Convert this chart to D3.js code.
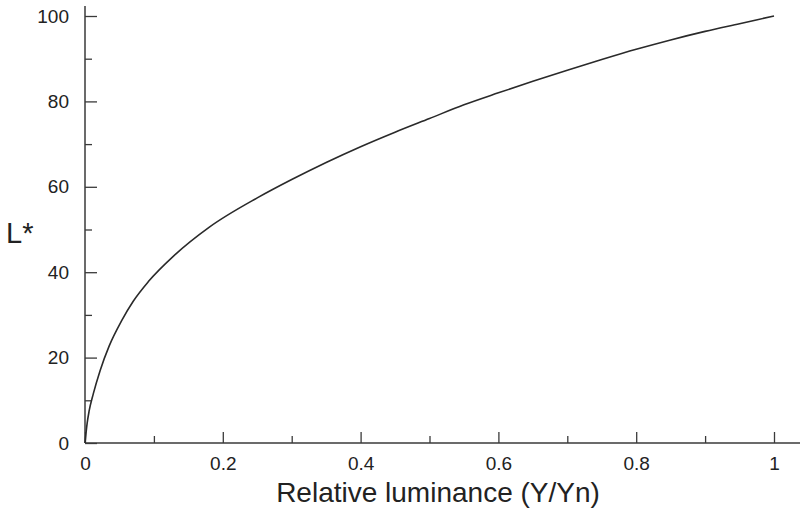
<!DOCTYPE html>
<html>
<head>
<meta charset="utf-8">
<script src="https://cdn.jsdelivr.net/npm/d3@7"></script>
<style>
  body { margin: 0; background: #fff; }
  svg { display: block; font-family: "Liberation Sans", Arial, sans-serif; }
</style>
</head>
<body>
<svg id="chart" width="800" height="515"></svg>
<script>
// values
const luminance = [0, 0.003, 0.006, 0.012, 0.022, 0.035, 0.053, 0.07, 0.092, 0.13, 0.18, 0.25, 0.3, 0.35,
  0.4, 0.45, 0.5, 0.55, 0.6, 0.65, 0.7, 0.75, 0.8, 0.85, 0.9, 0.95, 1];
const lightness = [0, 4.5, 7.5, 11.5, 17, 22.7, 28.6, 33.2, 37.8, 44, 50.5, 57.4, 61.7, 65.7,
  69.4, 72.8, 76, 79.2, 82, 84.7, 87.3, 89.8, 92.2, 94.4, 96.4, 98.2, 100];
const xMajor = [0, 0.2, 0.4, 0.6, 0.8, 1];
const xMinor = [0.1, 0.3, 0.5, 0.7, 0.9];
const yMajor = [0, 20, 40, 60, 80, 100];
const yMinor = [10, 30, 50, 70, 90];

const ink = '#3a3a3a';
const svg = d3.select('#chart');

const x = d3.scaleLinear().domain([0, 1]).range([85, 774]);
const y = d3.scaleLinear().domain([0, 100]).range([443, 16]);

// y axis: ticks point into the plot
const yAxis = svg.append('g').attr('transform', `translate(${x(0)},0)`);
yAxis.call(d3.axisLeft(y).tickValues(yMajor).tickSize(-12).tickPadding(16).tickFormat(d3.format('d')));
yAxis.append('g').call(d3.axisLeft(y).tickValues(yMinor).tickSize(-7).tickFormat(''));
yAxis.selectAll('.domain').remove();
yAxis.append('line').attr('y1', 6).attr('y2', y(0)).attr('stroke', ink).attr('stroke-width', 1.5);

// x axis: ticks point up
const xAxis = svg.append('g').attr('transform', `translate(0,${y(0)})`);
xAxis.call(d3.axisBottom(x).tickValues(xMajor).tickSize(-11).tickPadding(14).tickFormat(d => d === 0 ? '0' : d === 1 ? '1' : d3.format('.1f')(d)));
xAxis.append('g').call(d3.axisBottom(x).tickValues(xMinor).tickSize(-7).tickFormat(''));
xAxis.selectAll('.domain').remove();
xAxis.append('line').attr('x1', x(0)).attr('x2', 800).attr('stroke', ink).attr('stroke-width', 1.5);

svg.selectAll('.tick line').attr('stroke', ink).attr('stroke-width', 1.3);
svg.selectAll('.tick text').attr('fill', '#222').style('font-size', '19px');

// curve (monotoneX interpolates along the real x spacing)
const line = d3.line()
  .x((d, i) => x(luminance[i]))
  .y(d => y(d))
  .curve(d3.curveMonotoneX);

svg.append('path')
  .datum(lightness)
  .attr('d', line)
  .attr('fill', 'none')
  .attr('stroke', '#2a2a2a')
  .attr('stroke-width', 1.6);

// titles
svg.append('text')
  .attr('x', 438).attr('y', 502)
  .attr('text-anchor', 'middle')
  .attr('fill', '#222')
  .style('font-size', '28px')
  .text('Relative luminance (Y/Yn)');

svg.append('text')
  .attr('x', 6).attr('y', 243)
  .attr('fill', '#222')
  .style('font-size', '29px')
  .text('L*');
</script>
</body>
</html>
